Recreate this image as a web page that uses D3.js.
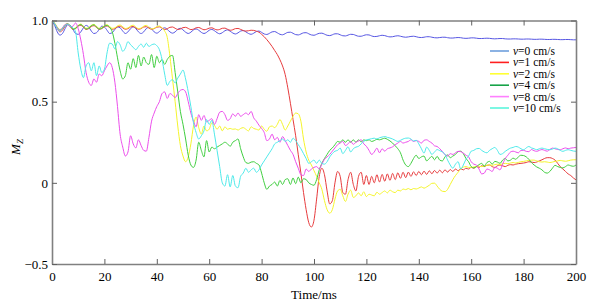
<!DOCTYPE html>
<html>
<head>
<meta charset="utf-8">
<script src="https://cdnjs.cloudflare.com/ajax/libs/d3/7.8.5/d3.min.js"></script>
<style>
  body { margin: 0; background: #fff; }
</style>
</head>
<body>
<script>
// time axis (ms), one sample per ms
var timeMs = d3.range(0, 201);

// M_z for every speed
var v0 = [1.00,0.97,0.93,0.91,0.92,0.95,0.975,0.97,0.945,0.92,
  0.915,0.93,0.955,0.97,0.96,0.935,0.92,0.925,0.945,0.965,
  0.96,0.94,0.92,0.925,0.945,0.96,0.955,0.935,0.92,0.93,
  0.95,0.96,0.95,0.93,0.92,0.93,0.95,0.958,0.948,0.93,
  0.922,0.932,0.948,0.955,0.945,0.93,0.922,0.93,0.945,0.952,
  0.942,0.928,0.92,0.928,0.942,0.948,0.94,0.927,0.92,0.927,
  0.94,0.945,0.937,0.925,0.918,0.925,0.937,0.942,0.934,0.923,
  0.917,0.924,0.935,0.938,0.93,0.92,0.915,0.922,0.932,0.935,
  0.927,0.917,0.914,0.921,0.93,0.932,0.924,0.915,0.912,0.919,
  0.927,0.928,0.921,0.913,0.911,0.917,0.924,0.925,0.918,0.911,
  0.909,0.915,0.921,0.922,0.916,0.909,0.907,0.912,0.918,0.918,
  0.912,0.906,0.905,0.91,0.915,0.914,0.908,0.903,0.903,0.908,
  0.912,0.911,0.905,0.901,0.902,0.906,0.909,0.907,0.902,0.899,
  0.9,0.904,0.906,0.903,0.899,0.897,0.899,0.902,0.903,0.9,
  0.896,0.895,0.897,0.9,0.9,0.897,0.894,0.893,0.895,0.897,
  0.897,0.894,0.892,0.892,0.894,0.895,0.894,0.891,0.89,0.891,
  0.893,0.893,0.891,0.889,0.889,0.89,0.891,0.89,0.888,0.887,
  0.888,0.889,0.889,0.887,0.886,0.886,0.887,0.887,0.886,0.885,
  0.885,0.886,0.886,0.885,0.884,0.884,0.885,0.885,0.884,0.883,
  0.883,0.884,0.884,0.883,0.882,0.882,0.883,0.883,0.882,0.881,
  0.881];

var v1 = [1.0,0.98,0.95,0.93,0.94,0.965,0.975,0.96,0.945,0.95,
  0.965,0.97,0.958,0.945,0.95,0.963,0.968,0.957,0.946,0.95,
  0.962,0.966,0.956,0.946,0.95,0.961,0.965,0.955,0.946,0.95,
  0.96,0.963,0.954,0.946,0.95,0.96,0.962,0.953,0.946,0.95,
  0.959,0.961,0.953,0.945,0.949,0.958,0.96,0.952,0.945,0.948,
  0.956,0.958,0.951,0.944,0.947,0.955,0.957,0.95,0.943,0.946,
  0.953,0.955,0.948,0.942,0.945,0.952,0.953,0.946,0.94,0.943,
  0.95,0.951,0.945,0.938,0.935,0.937,0.94,0.939,0.934,0.928,
  0.915,0.9,0.882,0.862,0.84,0.815,0.79,0.758,0.72,0.667,
  0.585,0.49,0.39,0.29,0.173,0.06,-0.06,-0.165,-0.245,-0.272,
  -0.23,-0.1,0.04,0.09,0.05,-0.05,-0.13,-0.11,0.0,0.07,
  0.04,-0.06,-0.07,0.02,0.065,-0.01,-0.05,0.04,0.065,-0.01,
  0.045,-0.01,0.04,0.0,0.05,0.005,0.052,0.01,0.055,0.015,
  0.058,0.02,0.062,0.028,0.065,0.032,0.066,0.04,0.068,0.045,
  0.07,0.05,0.072,0.052,0.074,0.056,0.076,0.06,0.078,0.062,
  0.08,0.066,0.082,0.07,0.085,0.075,0.087,0.08,0.09,0.085,
  0.095,0.09,0.1,0.095,0.105,0.1,0.108,0.11,0.1,0.095,
  0.105,0.11,0.105,0.1,0.108,0.112,0.11,0.115,0.118,0.12,
  0.122,0.125,0.13,0.128,0.125,0.128,0.135,0.142,0.15,0.155,
  0.155,0.15,0.14,0.12,0.1,0.085,0.07,0.055,0.045,0.03,
  0.018];

var v2 = [1.0,0.985,0.96,0.945,0.955,0.975,0.98,0.965,0.95,0.955,
  0.97,0.978,0.965,0.952,0.956,0.97,0.976,0.964,0.952,0.956,
  0.968,0.974,0.963,0.952,0.955,0.967,0.972,0.962,0.951,0.954,
  0.966,0.971,0.96,0.95,0.953,0.965,0.97,0.958,0.948,0.952,
  0.962,0.966,0.955,0.935,0.895,0.78,0.64,0.5,0.35,0.23,
  0.165,0.13,0.16,0.24,0.35,0.405,0.34,0.3,0.35,0.32,
  0.33,0.37,0.355,0.33,0.35,0.32,0.345,0.33,0.335,0.33,
  0.332,0.325,0.335,0.34,0.33,0.32,0.345,0.335,0.33,0.325,
  0.35,0.33,0.318,0.345,0.35,0.34,0.36,0.39,0.36,0.325,
  0.35,0.38,0.41,0.43,0.425,0.38,0.27,0.19,0.14,0.11,
  0.075,0.04,0.0,-0.04,-0.11,-0.165,-0.187,-0.165,-0.1,-0.05,
  -0.04,-0.08,-0.115,-0.07,-0.045,-0.09,-0.08,-0.062,-0.08,-0.055,
  -0.085,-0.07,-0.075,-0.08,-0.058,-0.07,-0.06,-0.05,-0.062,-0.045,
  -0.055,-0.06,-0.045,-0.05,-0.038,-0.042,-0.035,-0.043,-0.035,-0.038,
  -0.032,-0.025,-0.033,-0.025,-0.015,-0.003,-0.002,-0.02,-0.04,-0.052,
  -0.054,-0.04,-0.01,0.02,0.045,0.065,0.085,0.097,0.1,0.095,
  0.095,0.098,0.1,0.102,0.1,0.104,0.108,0.11,0.108,0.112,
  0.115,0.112,0.118,0.12,0.118,0.122,0.125,0.122,0.126,0.13,
  0.132,0.135,0.138,0.14,0.14,0.135,0.13,0.128,0.13,0.128,
  0.125,0.128,0.132,0.135,0.138,0.135,0.133,0.136,0.14,0.142,
  0.142];

var v4 = [1.0,0.98,0.955,0.94,0.95,0.972,0.98,0.965,0.948,0.952,
  0.968,0.975,0.962,0.948,0.953,0.968,0.973,0.96,0.948,0.952,
  0.965,0.97,0.958,0.93,0.86,0.77,0.69,0.64,0.66,0.74,
  0.7,0.765,0.71,0.785,0.72,0.775,0.74,0.73,0.79,0.71,
  0.78,0.74,0.76,0.73,0.76,0.78,0.785,0.68,0.56,0.44,
  0.36,0.27,0.17,0.11,0.095,0.14,0.25,0.2,0.16,0.26,
  0.19,0.22,0.21,0.22,0.23,0.24,0.25,0.24,0.225,0.25,
  0.26,0.27,0.21,0.16,0.125,0.12,0.128,0.13,0.12,0.11,
  0.06,0.0,-0.04,-0.02,-0.01,0.005,-0.02,0.015,-0.01,0.02,
  0.025,-0.01,0.03,-0.005,0.035,0.0,0.025,0.02,0.0,-0.01,
  -0.015,0.02,0.08,0.12,0.15,0.175,0.2,0.215,0.235,0.255,
  0.25,0.265,0.25,0.265,0.25,0.265,0.25,0.265,0.252,0.265,
  0.26,0.265,0.255,0.26,0.268,0.265,0.27,0.275,0.268,0.258,
  0.245,0.228,0.21,0.185,0.14,0.11,0.1,0.12,0.15,0.17,
  0.15,0.16,0.165,0.135,0.15,0.163,0.142,0.163,0.14,0.135,
  0.16,0.172,0.155,0.165,0.175,0.192,0.195,0.18,0.15,0.13,
  0.1,0.092,0.1,0.112,0.12,0.102,0.125,0.132,0.115,0.132,
  0.128,0.12,0.14,0.15,0.135,0.14,0.152,0.145,0.16,0.17,
  0.168,0.16,0.145,0.125,0.11,0.098,0.09,0.08,0.065,0.06,
  0.07,0.09,0.108,0.1,0.095,0.092,0.1,0.11,0.105,0.102,
  0.11];

var v8 = [1.0,0.98,0.955,0.94,0.955,0.975,0.978,0.962,0.965,0.985,
  0.95,0.88,0.79,0.68,0.62,0.6,0.64,0.62,0.67,0.66,
  0.69,0.72,0.74,0.71,0.62,0.47,0.3,0.22,0.165,0.19,
  0.29,0.24,0.215,0.265,0.23,0.2,0.195,0.28,0.38,0.43,
  0.47,0.5,0.55,0.56,0.52,0.55,0.54,0.525,0.55,0.57,
  0.575,0.56,0.5,0.43,0.38,0.345,0.42,0.385,0.415,0.375,
  0.385,0.395,0.36,0.395,0.435,0.44,0.42,0.385,0.395,0.425,
  0.41,0.43,0.41,0.42,0.43,0.42,0.44,0.4,0.38,0.355,
  0.335,0.31,0.26,0.27,0.3,0.265,0.28,0.25,0.285,0.26,
  0.23,0.2,0.175,0.13,0.09,0.05,0.045,0.085,0.07,0.085,
  0.095,0.1,0.085,0.115,0.145,0.16,0.175,0.195,0.215,0.235,
  0.245,0.255,0.23,0.24,0.255,0.237,0.25,0.258,0.265,0.24,
  0.225,0.2,0.175,0.19,0.214,0.185,0.21,0.195,0.21,0.215,
  0.222,0.235,0.245,0.255,0.245,0.25,0.255,0.265,0.255,0.26,
  0.255,0.245,0.262,0.265,0.255,0.245,0.228,0.224,0.21,0.194,
  0.173,0.165,0.18,0.175,0.185,0.194,0.192,0.183,0.17,0.16,
  0.13,0.115,0.11,0.085,0.055,0.06,0.085,0.08,0.07,0.095,
  0.09,0.08,0.115,0.15,0.17,0.19,0.195,0.19,0.185,0.2,
  0.2,0.194,0.192,0.205,0.198,0.194,0.2,0.205,0.2,0.195,
  0.205,0.214,0.21,0.205,0.204,0.21,0.215,0.21,0.214,0.216,
  0.218];

var v10 = [1.0,0.98,0.95,0.935,0.95,0.97,0.975,0.965,0.955,0.93,
  0.8,0.7,0.648,0.72,0.74,0.69,0.74,0.66,0.72,0.68,
  0.7,0.8,0.86,0.855,0.825,0.87,0.85,0.81,0.83,0.87,
  0.85,0.835,0.82,0.84,0.855,0.835,0.86,0.84,0.85,0.855,
  0.845,0.82,0.76,0.67,0.6,0.625,0.635,0.615,0.645,0.67,
  0.695,0.64,0.56,0.47,0.37,0.31,0.27,0.29,0.32,0.39,
  0.36,0.385,0.3,0.2,0.1,0.0,-0.02,0.05,-0.025,0.045,
  -0.02,-0.03,0.04,0.06,0.09,0.065,0.08,0.09,0.065,0.08,
  0.11,0.135,0.16,0.185,0.21,0.24,0.25,0.26,0.27,0.255,
  0.265,0.25,0.275,0.26,0.235,0.21,0.18,0.15,0.12,0.13,
  0.14,0.12,0.14,0.12,0.115,0.13,0.16,0.18,0.195,0.2,
  0.214,0.18,0.2,0.222,0.19,0.21,0.22,0.225,0.24,0.255,
  0.265,0.268,0.272,0.275,0.27,0.278,0.282,0.285,0.28,0.276,
  0.27,0.262,0.255,0.262,0.27,0.275,0.276,0.27,0.258,0.262,
  0.24,0.21,0.183,0.22,0.2,0.175,0.19,0.205,0.198,0.19,
  0.175,0.14,0.11,0.09,0.115,0.13,0.085,0.11,0.145,0.165,
  0.195,0.2,0.21,0.212,0.2,0.19,0.185,0.2,0.21,0.218,
  0.2,0.175,0.18,0.194,0.205,0.214,0.218,0.224,0.22,0.21,
  0.204,0.215,0.224,0.215,0.21,0.204,0.21,0.214,0.21,0.206,
  0.204,0.208,0.214,0.21,0.2,0.194,0.2,0.204,0.2,0.196,
  0.194];

// legend labels (number part) and tick values
var speeds = ["0", "1", "2", "4", "8", "10"];
var xTicks = [0, 20, 40, 60, 80, 100, 120, 140, 160, 180, 200];
var yTicks = [-0.5, 0, 0.5, 1.0];

var series = [v0, v1, v2, v4, v8, v10];
var lineColors = ["#5656e2", "#e63a3c", "#f4f42c", "#3fcd3f", "#eb4eeb", "#4ee9e9"];
var legendColors = ["#6e9fdc", "#ff1f1f", "#ffff33", "#17a348", "#ff80ff", "#5cf5dc"];

var serifFont = "'Liberation Serif', 'Times New Roman', serif";

var width = 600,
    height = 308,
    margin = {top: 20.5, right: 24, bottom: 44, left: 52};

var svg = d3.select("body")
  .append("svg")
  .attr("width", width)
  .attr("height", height);

var xScale = d3.scaleLinear()
  .domain([0, 200])
  .range([margin.left, width - margin.right]);

var yScale = d3.scaleLinear()
  .domain([-0.5, 1.0])
  .range([height - margin.bottom, margin.top]);

// clip lines to the plot box
svg.append("clipPath")
  .attr("id", "plotclip")
  .append("rect")
  .attr("x", xScale(0))
  .attr("y", yScale(1.0))
  .attr("width", xScale(200) - xScale(0))
  .attr("height", yScale(-0.5) - yScale(1.0));

var line = d3.line()
  .x(function(d, i) { return xScale(timeMs[i]); })
  .y(function(d) { return yScale(d); })
  .curve(d3.curveMonotoneX);

svg.append("g")
  .attr("clip-path", "url(#plotclip)")
  .selectAll("path")
  .data(series)
  .enter()
  .append("path")
  .attr("d", line)
  .attr("fill", "none")
  .attr("stroke-width", 1)
  .attr("stroke", function(d, i) { return lineColors[i]; });

// axes: ticks point inward on all four sides
var xBottom = d3.axisBottom(xScale).tickValues(xTicks).tickSizeInner(-5).tickSizeOuter(0).tickPadding(8);
var xTop = d3.axisTop(xScale).tickValues(xTicks).tickSizeInner(-5).tickSizeOuter(0).tickFormat("");
var yLeft = d3.axisLeft(yScale).tickValues(yTicks).tickSizeInner(-5).tickSizeOuter(0).tickPadding(4)
  .tickFormat(function(d) {
    if (d == 0) return "0";
    return d3.format(".1f")(d).replace("-", "\u2212");
  });
var yRight = d3.axisRight(yScale).tickValues(yTicks).tickSizeInner(-5).tickSizeOuter(0).tickFormat("");

svg.append("g").attr("class", "axis").attr("transform", "translate(0," + yScale(-0.5) + ")").call(xBottom);
svg.append("g").attr("class", "axis").attr("transform", "translate(0," + yScale(1.0) + ")").call(xTop);
svg.append("g").attr("class", "axis").attr("transform", "translate(" + xScale(0) + ",0)").call(yLeft);
svg.append("g").attr("class", "axis").attr("transform", "translate(" + xScale(200) + ",0)").call(yRight);

svg.selectAll(".axis path").attr("stroke", "#808080").attr("stroke-width", 1.6);
svg.selectAll(".axis line").attr("stroke", "#606060").attr("stroke-width", 1);
svg.selectAll(".axis text")
  .attr("fill", "#000")
  .style("font-family", serifFont)
  .style("font-size", "13px");

// axis titles
svg.append("text")
  .attr("x", (xScale(0) + xScale(200)) / 2)
  .attr("y", 299)
  .attr("text-anchor", "middle")
  .style("font-family", serifFont)
  .style("font-size", "13px")
  .text("Time/ms");

var yTitle = svg.append("text")
  .attr("transform", "translate(20,147)rotate(-90)")
  .attr("text-anchor", "middle")
  .style("font-family", serifFont)
  .style("font-size", "13px")
  .style("font-style", "italic");
yTitle.append("tspan").text("M");
yTitle.append("tspan").attr("dy", 3).style("font-size", "9px").text("Z");

// legend
var legend = svg.append("g").attr("class", "legend");

legend.selectAll("line")
  .data(speeds)
  .enter()
  .append("line")
  .attr("x1", 490)
  .attr("x2", 509)
  .attr("y1", function(d, i) { return 51 + i * 11.4; })
  .attr("y2", function(d, i) { return 51 + i * 11.4; })
  .attr("stroke-width", 1.6)
  .attr("stroke", function(d, i) { return legendColors[i]; });

var legendText = legend.selectAll("text")
  .data(speeds)
  .enter()
  .append("text")
  .attr("x", 513)
  .attr("y", function(d, i) { return 55 + i * 11.4; })
  .style("font-family", serifFont)
  .style("font-size", "11.5px");
legendText.append("tspan").style("font-style", "italic").text("v");
legendText.append("tspan").text(function(d) { return "=" + d + " cm/s"; });
</script>
</body>
</html>
